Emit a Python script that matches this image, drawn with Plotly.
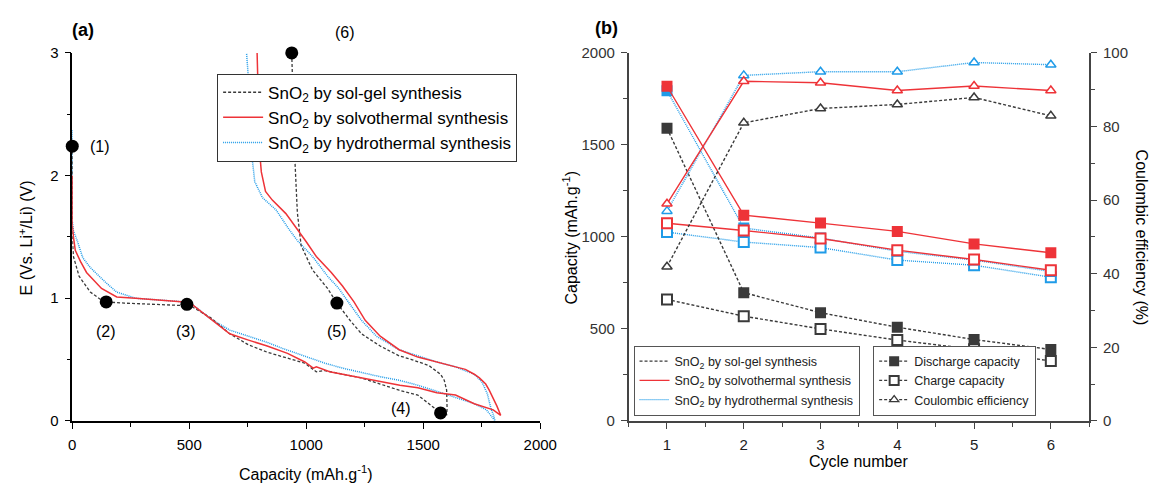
import plotly.graph_objects as go

# ---------------- Panel (a): voltage profiles ----------------
sg_cap = [0, 0, 5, 29, 77, 121, 145, 222, 351, 479, 512, 592, 673, 753, 833, 920, 994, 1043, 1080,
          1155, 1236, 1316, 1397, 1477, 1525, 1574, 1600,
          1602, 1600, 1590, 1574, 1525, 1450, 1397, 1316, 1236, 1187, 1131, 1091, 1027, 978, 962, 950, 942, 938]
sg_e = [2.24, 1.5, 1.34, 1.18, 1.05, 0.99, 0.97, 0.96, 0.95, 0.94, 0.93, 0.84, 0.71, 0.62, 0.56, 0.51, 0.47, 0.40, 0.41,
        0.38, 0.35, 0.30, 0.25, 0.21, 0.14, 0.065, 0.05,
        0.10, 0.25, 0.33, 0.38, 0.45, 0.50, 0.53, 0.61, 0.71, 0.82, 0.96, 1.08, 1.23, 1.43, 1.70, 2.19, 2.80, 3.0]

sv_cap = [0, 0, 5, 13, 35, 61, 125, 190, 270, 351, 479, 512, 608, 673, 750, 833, 920, 994, 1030, 1043, 1100,
          1155, 1240, 1316, 1400, 1477, 1558, 1638, 1718, 1799, 1831,
          1815, 1799, 1782, 1767, 1740, 1718, 1680, 1638, 1558, 1477, 1397, 1316, 1252, 1204, 1155, 1107,
          1043, 1000, 913, 855, 826, 808, 801, 795, 790]
sv_e = [2.0, 1.6, 1.5, 1.39, 1.30, 1.21, 1.08, 1.01, 1.0, 0.99, 0.97, 0.95, 0.81, 0.71, 0.66, 0.61, 0.55, 0.48, 0.43, 0.44, 0.40,
        0.38, 0.35, 0.32, 0.29, 0.27, 0.23, 0.21, 0.14, 0.09, 0.045,
        0.12, 0.19, 0.25, 0.30, 0.35, 0.38, 0.42, 0.44, 0.48, 0.52, 0.58, 0.69, 0.82, 0.97, 1.10, 1.21,
        1.34, 1.46, 1.69, 1.80, 1.87, 2.03, 2.19, 2.60, 3.0]

hy_cap = [0, 0, 5, 21, 45, 77, 142, 190, 270, 351, 479, 512, 600, 673, 750, 833, 900, 994, 1080,
          1155, 1240, 1316, 1400, 1477, 1560, 1638, 1718, 1770, 1807,
          1800, 1791, 1783, 1774, 1760, 1750, 1718, 1638, 1558, 1477, 1397, 1300, 1236, 1187, 1139, 1091,
          1027, 962, 927, 871, 813, 780, 766, 751, 745]
hy_e = [2.37, 1.63, 1.55, 1.47, 1.33, 1.25, 1.13, 1.05, 1.0, 0.99, 0.97, 0.95, 0.82, 0.74, 0.69, 0.64, 0.59, 0.53, 0.47,
        0.43, 0.39, 0.36, 0.33, 0.29, 0.24, 0.19, 0.14, 0.09, 0.0,
        0.05, 0.09, 0.15, 0.22, 0.28, 0.32, 0.38, 0.44, 0.48, 0.53, 0.58, 0.69, 0.82, 0.95, 1.08, 1.18,
        1.34, 1.47, 1.56, 1.72, 1.82, 1.95, 2.19, 2.84, 3.0]

pt_cap = [0, 145, 490, 1574, 1131, 938]
pt_e = [2.24, 0.97, 0.95, 0.065, 0.96, 3.0]
pt_labels = ["(1)", "(2)", "(3)", "(4)", "(5)", "(6)"]
lab_cap = [118, 145, 484, 1405, 1131, 1166]
lab_e = [2.24, 0.73, 0.73, 0.10, 0.73, 3.17]

# ---------------- Panel (b): cycling ----------------
cycles = [1, 2, 3, 4, 5, 6]
sg_dis = [1591, 697, 588, 509, 442, 388]
sg_chg = [660, 569, 500, 439, 389, 325]
sg_ce = [41.9, 81.0, 84.9, 86.0, 87.9, 82.9]
sv_dis = [1819, 1118, 1075, 1030, 962, 914]
sv_chg = [1074, 1035, 991, 928, 877, 819]
sv_ce = [59.0, 92.3, 91.9, 89.8, 91.0, 89.8]
hy_dis = [1795, 1048, 994, 922, 874, 812]
hy_chg = [1026, 972, 942, 874, 846, 781]
hy_ce = [57.0, 93.9, 94.9, 94.9, 97.4, 96.8]

series_names = ["SnO<sub>2</sub> by sol-gel synthesis",
                "SnO<sub>2</sub> by solvothermal synthesis",
                "SnO<sub>2</sub> by hydrothermal synthesis"]
type_names = ["Discharge capacity", "Charge capacity", "Coulombic efficiency"]

BLACK = "#3a3a3a"
RED = "#ee3338"
BLUE = "#1f9be8"
FONT = "Liberation Sans"

W, H = 1173, 495
def px(x):
    return x / W
def py(y):
    return 1 - y / H

# plot-area geometry (pixels)
AX_L, AX_R = 69.5, 546
BX_L, BX_R = 636, 1105
Y_TOP, Y_BOT = 45.5, 426.5

fig = go.Figure()

styles = {
    "sg": dict(color=BLACK, dash="3px,2px", width=1.3),
    "sv": dict(color=RED, dash="solid", width=1.5),
    "hy": dict(color=BLUE, dash="1px,1px", width=1.5),
}

for key, cap, e, name in [("hy", hy_cap, hy_e, series_names[2]),
                          ("sg", sg_cap, sg_e, series_names[0]),
                          ("sv", sv_cap, sv_e, series_names[1])]:
    fig.add_trace(go.Scatter(x=cap, y=e, mode="lines", line=styles[key], name=name,
                             showlegend=False, xaxis="x", yaxis="y"))
for key, name in [("sg", series_names[0]), ("sv", series_names[1]), ("hy", series_names[2])]:
    fig.add_trace(go.Scatter(x=[None], y=[None], mode="lines", line=styles[key], name=name,
                             showlegend=True, legend="legend", xaxis="x", yaxis="y"))
fig.add_trace(go.Scatter(x=pt_cap, y=pt_e, mode="markers",
                         marker=dict(color="black", size=13, symbol="circle"),
                         showlegend=False, cliponaxis=False, xaxis="x", yaxis="y"))

for key, dis, chg, ce, col in [("hy", hy_dis, hy_chg, hy_ce, BLUE),
                               ("sg", sg_dis, sg_chg, sg_ce, BLACK),
                               ("sv", sv_dis, sv_chg, sv_ce, RED)]:
    ln = dict(styles[key]); ln["width"] = 1.4
    fig.add_trace(go.Scatter(x=cycles, y=ce, mode="lines+markers", line=ln,
                             marker=dict(symbol="triangle-up", size=9, color="white",
                                         line=dict(color=col, width=1.5)),
                             showlegend=False, cliponaxis=False, xaxis="x2", yaxis="y3"))
    fig.add_trace(go.Scatter(x=cycles, y=chg, mode="lines+markers", line=ln,
                             marker=dict(symbol="square", size=10, color="white",
                                         line=dict(color=col, width=2)),
                             showlegend=False, xaxis="x2", yaxis="y2"))
    fig.add_trace(go.Scatter(x=cycles, y=dis, mode="lines+markers", line=ln,
                             marker=dict(symbol="square", size=11, color=col,
                                         line=dict(color=col, width=0)),
                             showlegend=False, xaxis="x2", yaxis="y2"))

for key, name in [("sg", series_names[0]), ("sv", series_names[1]), ("hy", series_names[2])]:
    ln = dict(styles[key]); ln["width"] = 1.2
    fig.add_trace(go.Scatter(x=[None], y=[None], mode="lines", line=ln, name=name,
                             showlegend=True, legend="legend2", xaxis="x2", yaxis="y2"))
type_markers = [dict(symbol="square", size=10, color=BLACK, line=dict(color=BLACK, width=0)),
                dict(symbol="square", size=9, color="white", line=dict(color=BLACK, width=2)),
                dict(symbol="triangle-up", size=8, color="white", line=dict(color=BLACK, width=1.3))]
for name, mk in zip(type_names, type_markers):
    fig.add_trace(go.Scatter(x=[None], y=[None], mode="lines+markers",
                             line=dict(color=BLACK, dash="3px,2px", width=1.3), marker=mk, name=name,
                             showlegend=True, legend="legend3", xaxis="x2", yaxis="y2"))

ydom = [py(Y_BOT), py(Y_TOP)]
axis_common = dict(showgrid=False, zeroline=False, showline=True, ticks="outside",
                   ticklen=6, tickwidth=1.3, linewidth=1.5, ticklabelstandoff=3)

fig.update_layout(
    width=W, height=H, margin=dict(l=0, r=0, t=0, b=0),
    paper_bgcolor="white", plot_bgcolor="white",
    font=dict(family=FONT, size=15, color="black"),
    xaxis=dict(domain=[px(AX_L), px(AX_R)], range=[0, 2000], anchor="y",
               tickvals=[0, 500, 1000, 1500, 2000], linecolor="black", tickcolor="black",
               minor=dict(ticks="outside", ticklen=4, tickwidth=1.2, dtick=250, tickcolor="black"),
               tickfont=dict(size=15, color="black"), **axis_common),
    yaxis=dict(domain=ydom, range=[0, 3], anchor="x",
               tickvals=[0, 1, 2, 3], linecolor="black", tickcolor="black",
               minor=dict(ticks="outside", ticklen=4, tickwidth=1.2, dtick=0.5, tickcolor="black"),
               tickfont=dict(size=15, color="black"), **axis_common),
    xaxis2=dict(domain=[px(BX_L), px(BX_R)], range=[0.5, 6.5], anchor="y2",
                tickvals=cycles, linecolor="#444", tickcolor="#444",
                minor=dict(ticks="outside", ticklen=4, tickwidth=1.2, dtick=0.5, tick0=0.5, tickcolor="#444"),
                tickfont=dict(size=15, color="#222"), **axis_common),
    yaxis2=dict(domain=ydom, range=[0, 2000], anchor="x2",
                tickvals=[0, 500, 1000, 1500, 2000], linecolor="#444", tickcolor="#444",
                minor=dict(ticks="outside", ticklen=4, tickwidth=1.2, dtick=250, tickcolor="#444"),
                tickfont=dict(size=15, color="#333"), **axis_common),
    yaxis3=dict(domain=ydom, range=[0, 100], anchor="x2", overlaying="y2", side="right",
                tickvals=[0, 20, 40, 60, 80, 100], linecolor="#444", tickcolor="#444",
                minor=dict(ticks="outside", ticklen=4, tickwidth=1.2, dtick=10, tickcolor="#444"),
                tickfont=dict(size=15, color="#333"), **axis_common),
    legend=dict(x=px(217), y=py(67), xanchor="left", yanchor="top",
                bordercolor="#333", borderwidth=1, bgcolor="white",
                font=dict(size=17, color="black", family=FONT), tracegroupgap=0,
                itemwidth=40),
    legend2=dict(x=px(641), y=py(421), xanchor="left", yanchor="bottom",
                 bordercolor="#555", borderwidth=1, bgcolor="white",
                 font=dict(size=12.5, color="#222", family=FONT), tracegroupgap=0, itemwidth=30),
    legend3=dict(x=px(885), y=py(421), xanchor="left", yanchor="bottom",
                 bordercolor="#555", borderwidth=1, bgcolor="white",
                 font=dict(size=12.5, color="#222", family=FONT), tracegroupgap=0, itemwidth=30),
)

ann = []
for lbl, xc, yc in zip(pt_labels[:5], lab_cap[:5], lab_e[:5]):
    ann.append(dict(x=xc, y=yc, xref="x", yref="y", text=lbl, showarrow=False,
                    xanchor="center", yanchor="middle",
                    font=dict(size=16, color="black", family=FONT)))
# label (6) lies above the plot area -> paper coordinates
x6 = px(AX_L + (AX_R - AX_L) * lab_cap[5] / 2000)
y6 = py(Y_BOT - (Y_BOT - Y_TOP) * lab_e[5] / 3)
ann.append(dict(x=x6, y=y6, xref="paper", yref="paper", text=pt_labels[5], showarrow=False,
                xanchor="center", yanchor="middle", font=dict(size=16, color="black", family=FONT)))

def pann(x, y, text, size=16, angle=0, bold=False):
    return dict(x=px(x), y=py(y), xref="paper", yref="paper",
                text=f"<b>{text}</b>" if bold else text, textangle=angle, showarrow=False,
                xanchor="center", yanchor="middle", font=dict(size=size, color="black", family=FONT))

ann += [
    pann(80, 22, "(a)", 18, bold=True),
    pann(613, 20, "(b)", 18, bold=True),
    pann(22, 237, "E (Vs. Li<sup>+</sup>/Li) (V)", 16, angle=-90),
    pann(307, 481, "Capacity (mAh.g<sup>-1</sup>)", 16),
    pann(576, 237, "Capacity (mAh.g<sup>-1</sup>)", 16, angle=-90),
    pann(1158, 237, "Coulombic efficiency (%)", 16, angle=90),
    pann(870, 469, "Cycle number", 16),
]
fig.update_layout(annotations=ann)

fig.write_html("out.html",
               post_script="document.body.style.margin='0';document.body.style.padding='0';"
                           "document.documentElement.style.overflow='hidden';")
